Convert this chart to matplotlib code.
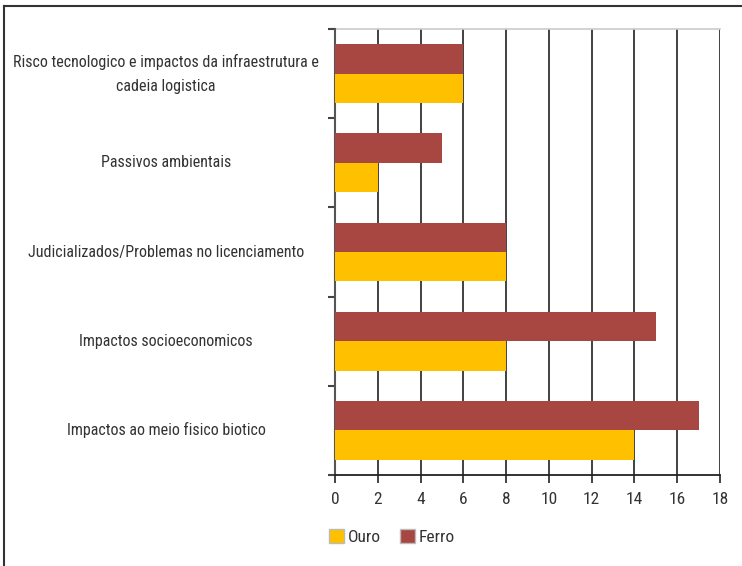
import matplotlib
matplotlib.use("Agg")
import matplotlib.pyplot as plt
from matplotlib.lines import Line2D
from matplotlib.patches import Patch
import matplotlib.transforms as mtransforms

categories = [
    "Risco tecnologico e impactos da infraestrutura e\ncadeia logistica",
    "Passivos ambientais",
    "Judicializados/Problemas no licenciamento",
    "Impactos socioeconomicos",
    "Impactos ao meio fisico biotico",
]
ferro = [6, 5, 8, 15, 17]
ouro = [6, 2, 8, 8, 14]
xticks = [0, 2, 4, 6, 8, 10, 12, 14, 16, 18]

plt.rcParams['font.family'] = ['Roboto Condensed', 'DejaVu Sans']

FERRO_C = "#A84642"
OURO_C = "#FFC000"
TXT = "#333333"

fig = plt.figure(figsize=(7.42, 5.66), dpi=100)
ax = fig.add_axes([335/742, 1-475/566, (720-335)/742, (475-29)/566])

n = len(categories)
ys = list(range(n))
h = 0.33
ax.barh([y - h/2 for y in ys], ferro, height=h, color=FERRO_C, zorder=3)
ax.barh([y + h/2 for y in ys], ouro, height=h, color=OURO_C, zorder=3)

ax.set_ylim(n - 0.5, -0.5)
ax.set_xlim(0, 18)
ax.set_xticks(xticks)
ax.set_xticklabels([str(v) for v in xticks], color=TXT, fontsize=12.5)
ax.tick_params(axis='x', length=6, width=1.2, color="#222222", pad=6)
ax.set_yticks([y - 0.5 for y in range(n + 1)])
ax.set_yticklabels([])
ax.tick_params(axis='y', length=5, width=1.5, color="#444444")
ax.grid(axis='x', color="#333333", linewidth=1.3, zorder=1)
for s in ['top', 'right']:
    ax.spines[s].set_visible(False)
ax.spines['left'].set_color("#555555")
ax.spines['left'].set_linewidth(1.5)
ax.spines['bottom'].set_color("#222222")
ax.spines['bottom'].set_linewidth(1.3)
ax.plot([0, 18], [-0.5, -0.5], color="#cccccc", lw=1.2, zorder=2, clip_on=False)

trans = mtransforms.blended_transform_factory(fig.transFigure, ax.transData)
for y, lab in zip(ys, categories):
    ax.text(166/742, y, lab, transform=trans, ha='center', va='center',
            fontsize=11.5, color=TXT, linespacing=1.75)

handles = [Patch(facecolor=OURO_C, edgecolor="#bbbbbb", label="Ouro"),
           Patch(facecolor=FERRO_C, edgecolor="#bbbbbb", label="Ferro")]
fig.legend(handles=handles, loc='center left', bbox_to_anchor=(313/742, 1-537/566),
           ncol=2, frameon=False, fontsize=12.5, handlelength=0.9, handleheight=0.9,
           handletextpad=0.2, columnspacing=1.1, labelcolor=TXT)

fig.add_artist(Line2D([4/742, 1], [1-6/566, 1-6/566], color="#333333", lw=1.5, transform=fig.transFigure))
fig.add_artist(Line2D([4/742, 4/742], [0, 1-6/566], color="#333333", lw=1.5, transform=fig.transFigure))

fig.savefig("out.png", dpi=100)
